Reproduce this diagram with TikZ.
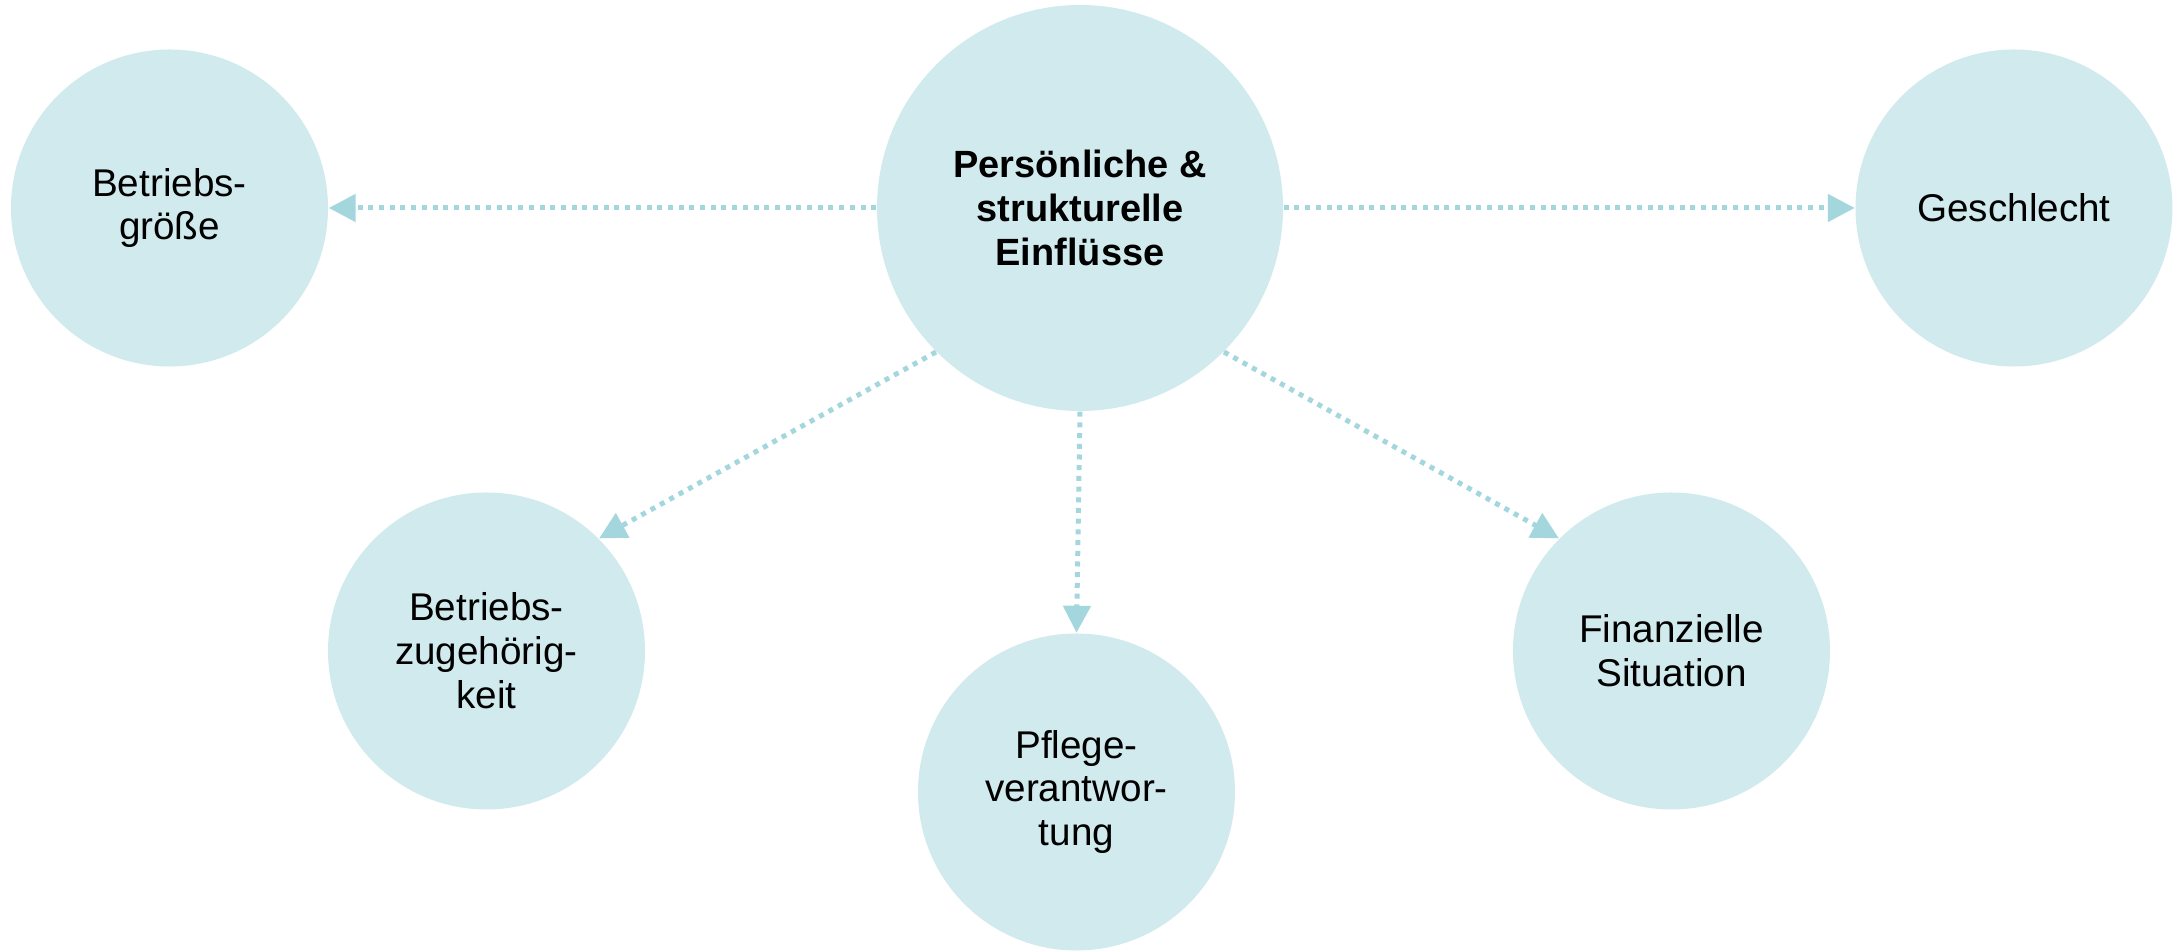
\documentclass[tikz,border=0pt]{standalone}
\usepackage{fontspec}
\setmainfont{Liberation Sans}
\usetikzlibrary{arrows.meta}
\definecolor{kreisfill}{HTML}{D0EAED}
\definecolor{pfeilfarbe}{HTML}{A3D7DD}

\begin{document}
\begin{tikzpicture}[
    kreis/.style={circle, fill=kreisfill, inner sep=0pt, minimum size=3.17cm, align=center, font=\fontsize{11}{12.5}\selectfont},
    einfluss/.style={pfeilfarbe, line width=0.05cm, dash pattern=on 0.05cm off 0.057cm, -{Triangle[length=0.27cm, width=0.27cm]}}
]
    % Rahmen
    \useasboundingbox (0,0) rectangle (21.78,-9.51);

    % Mitte
    \node[kreis, minimum size=4.06cm, font=\bfseries\fontsize{10.8}{12.5}\selectfont] (main) at (10.80,-2.08) {Persönliche \&\\strukturelle\\Einflüsse};

    % obere Reihe
    \node[kreis] (groesse) at (1.695,-2.08) {Betriebs-\\größe};
    \node[kreis] (geschlecht) at (20.14,-2.08) {Geschlecht};

    % untere Reihe
    \node[kreis] (zugehoerigkeit) at (4.865,-6.51) {Betriebs-\\zugehörig-\\keit};
    \node[kreis] (pflege) at (10.765,-7.92) {Pflege-\\verantwor-\\tung};
    \node[kreis] (finanzen) at (16.715,-6.51) {Finanzielle\\Situation};

    % Pfeile
    \draw[einfluss] (main.west) -- (groesse.east);
    \draw[einfluss] (main.east) -- (geschlecht.west);
    \draw[einfluss] (main.-135) -- (zugehoerigkeit.45);
    \draw[einfluss] (main.south) -- (pflege.north);
    \draw[einfluss] (main.-45) -- (finanzen.135);
\end{tikzpicture}
\end{document}
